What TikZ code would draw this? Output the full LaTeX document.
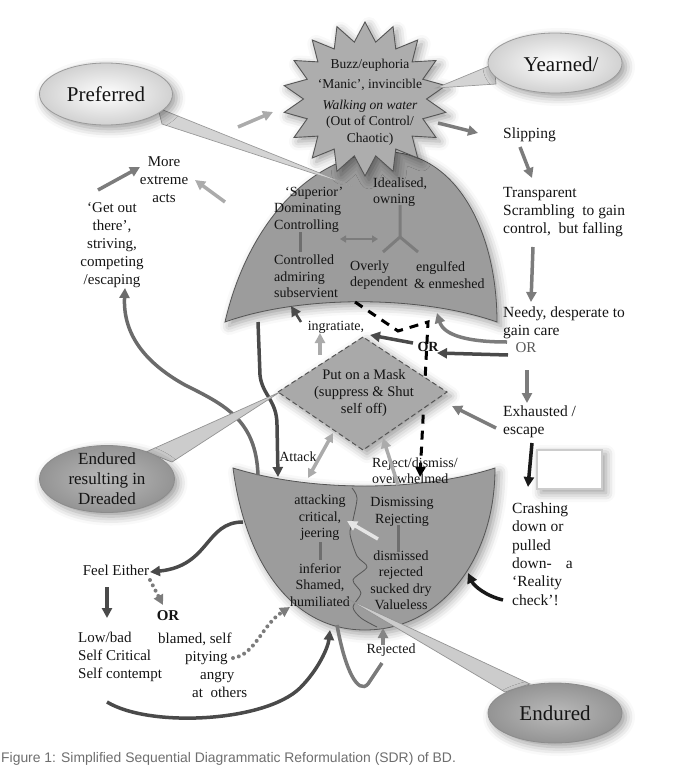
\documentclass[tikz,border=0pt]{standalone}
\usepackage{fontspec}
\setmainfont{Liberation Serif}
\newfontfamily\capfont{Liberation Sans}
\usetikzlibrary{arrows.meta,shapes.geometric,shadows.blur}
\definecolor{shapefill}{HTML}{9C9C9C}
\definecolor{diafill}{HTML}{A9A9A9}
\definecolor{starfill}{HTML}{ADADAD}
\definecolor{edgecol}{HTML}{555555}
\definecolor{txtcol}{HTML}{141414}
\definecolor{midarrow}{HTML}{7C7C7C}
\definecolor{lightarrow}{HTML}{ABABAB}
\definecolor{darkarrow}{HTML}{4A4A4A}
\definecolor{paletail}{HTML}{D4D4D4}
\definecolor{tailedge}{HTML}{9A9A9A}
\definecolor{capcol}{HTML}{6E6E6E}
\begin{document}
\begin{tikzpicture}[x=1pt,y=-1pt,
  every node/.style={inner sep=0pt, text=txtcol},
  rtext/.style={font=\fontsize{15.5}{18}\selectfont, align=left, anchor=west},
  ctext/.style={font=\fontsize{15}{18}\selectfont, align=center},
  intext/.style={font=\fontsize{14}{16.5}\selectfont, align=center},
  ltext/.style={font=\fontsize{14}{16.5}\selectfont, align=left, anchor=west},
  shadowed/.style={blur shadow={shadow xshift=4pt, shadow yshift=-4pt, shadow blur radius=9pt, shadow opacity=40}},
  tipA/.style={-{Triangle[length=10pt,width=10pt]}},
  midarr/.style={tipA, draw=midarrow, line width=3.5pt},
  lightarr/.style={tipA, draw=lightarrow, line width=3.5pt},
  darkarr/.style={tipA, draw=darkarrow, line width=3.5pt},
  blackarr/.style={tipA, draw=black!90, line width=3.5pt},
  bar/.style={draw=darkarrow!80, line width=3pt},
  lightcall/.style={ellipse, draw=tailedge, line width=0.8pt, inner color=white, outer color=black!18, shadowed},
  darkcall/.style={ellipse, draw=black!45, line width=0.8pt, inner color=black!27, outer color=black!42, shadowed},
  tailL/.style={fill=paletail, draw=tailedge, line width=0.7pt},
  tailD/.style={fill=black!20, draw=black!42, line width=0.7pt}
]
\useasboundingbox (0,0) rectangle (679,779);

% ---------- dome ----------
\filldraw[fill=shapefill, draw=edgecol, line width=0.8pt, shadowed]
  (225,322) .. controls (245,235) and (300,160) .. (380,152)
  .. controls (455,148) and (497,230) .. (497,322)
  .. controls (420,295) and (300,295) .. (225,322) -- cycle;

% ---------- bowl ----------
\filldraw[fill=shapefill, draw=edgecol, line width=0.8pt, shadowed]
  (233,468) .. controls (310,492) and (420,492) .. (495,468)
  .. controls (495,560) and (440,630) .. (365,630)
  .. controls (290,630) and (245,560) .. (233,468) -- cycle;

% wavy divider in bowl
\draw[edgecol, line width=0.8pt] plot[smooth] coordinates {(352,488) (357,498) (353,520) (350,534) (357,556) (367,567) (353,580) (361,593) (353,607) (361,618) (377,627)};

% ---------- dashed black path ----------
\draw[tipA, black, line width=3pt, dash pattern=on 9pt off 7pt]
  (355,302) -- (398,331) -- (428,322) -- (420,477);

% ---------- diamond ----------
\filldraw[fill=diafill, draw=edgecol, line width=1pt, dash pattern=on 5pt off 3pt, shadowed]
  (278,392) -- (363,337) -- (447,392) -- (363,450) -- cycle;
\node[intext, font=\fontsize{14.5}{17}\selectfont] (n_mask) at (364,393) {Put on a Mask\\(suppress \& Shut\\self off)};

% ---------- star ----------
\filldraw[fill=starfill, draw=edgecol, line width=0.9pt, shadowed]
  plot[samples at={0,...,35}, variable=\i]
  ({365+82*(mod(\i,2)==0 ? 1 : 0.75)*cos(90+10*\i)}, {99-77*(mod(\i,2)==0 ? 1 : 0.75)*sin(90+10*\i)}) -- cycle;
\node[align=center, font=\fontsize{13.5}{16.5}\selectfont] (n_buzz) at (370,102)
  {Buzz/euphoria\\[4pt]‘Manic’, invincible\\[4pt]\textit{Walking on water}\\(Out of Control/\\Chaotic)};

% ---------- dome inner marks ----------
\draw[bar] (300,232) -- (300,252);
\draw[{Triangle[length=6pt,width=7pt]}-{Triangle[length=6pt,width=7pt]}, draw=midarrow, line width=2.5pt] (340,239) -- (378,239);
\draw[draw=midarrow, line width=3pt] (400,205) -- (400,237) -- (383,252);
\draw[draw=midarrow, line width=3pt] (400,237) -- (418,252);

% dome texts
\node[ltext] (n_sup) at (274,209.5) {\hspace{11pt}‘Superior’\\Dominating\\Controlling};
\node[ltext] (n_ctrl) at (274,276.5) {Controlled\\admiring\\subservient};
\node[ltext] (n_ideal) at (373,192) {Idealised,\\owning};
\node[ltext] (n_overly) at (350,275) {Overly\\dependent};
\node[ltext] (n_engulf) at (414,275) {\hspace{2pt}engulfed\\\& enmeshed};

% ---------- bowl inner marks ----------
\draw[bar] (320,542) -- (320,560);
\draw[bar] (398,525) -- (398,552);
\draw[tipA, draw=black!10, line width=3.5pt] (378,539) -- (347,521);

% bowl texts
\node[intext] (n_attacking) at (320,518) {attacking\\critical,\\jeering};
\node[intext] (n_inferior) at (320,585) {inferior\\Shamed,\\humiliated};
\node[intext] (n_dismissing) at (402,512) {Dismissing\\Rejecting};
\node[intext] (n_dismissed) at (401,580) {dismissed\\rejected\\sucked dry\\Valueless};

% ---------- labels around diamond ----------
\node[intext] (n_ingr) at (336,327) {ingratiate,};
\node[intext] (n_attack) at (298,457) {Attack};
\node[ltext, font=\fontsize{14}{15.5}\selectfont] (n_reject) at (372,470.5) {Reject/dismiss/\\overwhelmed};
\node[font=\bfseries\fontsize{14}{16}\selectfont] (n_midor) at (428,347) {OR};
\node[intext] (n_rejected) at (391,650) {Rejected};

% ---------- right column ----------
\node[rtext] (n_slip) at (503,135) {Slipping};
\node[rtext] (n_transp) at (503,212) {Transparent\\Scrambling\ \ to gain\\control,\ \ but falling};
\node[rtext] (n_needy) at (503,323) {Needy, desperate to\\gain care};
\node[font=\fontsize{15}{18}\selectfont, text=black!65] (n_needyor) at (526,348) {OR};
\node[rtext] (n_exh) at (503,422) {Exhausted /\\escape};
\node[rtext, font=\fontsize{15.5}{18.4}\selectfont] (n_crash) at (512,554) {Crashing\\down or\\pulled\\down-\hspace{14pt}a\\‘Reality\\check’!};
\filldraw[draw=black!20, fill=white, line width=2pt, shadowed] (537,450) rectangle (602,489);

% ---------- left side ----------
\node[ctext] (n_more) at (164,180) {More\\extreme\\acts};
\node[ctext] (n_getout) at (112,245.5) {‘Get out\\there’,\\striving,\\competing\\/escaping};
\node[ctext] (n_feel) at (116,570) {Feel Either};
\node[font=\bfseries\fontsize{15}{18}\selectfont] (n_or) at (168,616) {OR};
\node[rtext, font=\fontsize{15}{18}\selectfont] (n_low) at (78,656.5) {Low/bad\\Self Critical\\Self contempt};
\node[rtext, font=\fontsize{15}{18}\selectfont] (n_blamed) at (158,665.5) {blamed, self\\\hspace{27pt}pitying\\\hspace{42pt}angry\\\hspace{34pt}at\ \ others};

% ---------- arrows ----------
\draw[midarr] (438,123) -- (478,133);
\draw[midarr] (520,147) -- (532,178);
\draw[midarr] (533,247) -- (531,302);
\draw[midarr] (527,370) -- (527,403);
\draw[midarr] (496,428) -- (452,406);
\draw[blackarr] (532,443) -- (528,487);
\draw[blackarr] (503,600) .. controls (486,596) and (474,586) .. (468,573);
\draw[darkarr] (508,355) -- (437,353);
\draw[darkarr] (413,343) -- (370,335);
\draw[midarr] (507,342) .. controls (470,342) and (444,336) .. (437,313);
\draw[darkarr, line width=2.5pt] (301,322) -- (291,306);
\draw[lightarr] (320,355) -- (320,333);
\draw[darkarr] (258,322) -- (260,375) .. controls (262,395) and (277,400) .. (277,425) -- (278,477);
\draw[{Triangle[length=9pt,width=9pt]}-{Triangle[length=9pt,width=9pt]}, draw=lightarrow, line width=3.5pt] (308,478) -- (333,433);
\draw[lightarr] (398,485) -- (383,438);
\draw[tipA, draw=black!58, line width=3.5pt] (258,475) .. controls (256,420) and (225,405) .. (185,385) .. controls (140,360) and (123,330) .. (125,288);
\draw[darkarr] (243,522) .. controls (205,522) and (210,566) .. (150,572);
\draw[darkarr] (107,587) -- (107,618);
\draw[tipA, draw=midarrow, line width=4pt, line cap=round, dash pattern=on 0pt off 6pt] (150,580) -- (163,605);
\draw[tipA, draw=midarrow, line width=4pt, line cap=round, dash pattern=on 0pt off 6pt] (233,658) .. controls (255,655) and (262,625) .. (290,607);
\draw[darkarr] (107,702) .. controls (150,728) and (265,722) .. (300,688) .. controls (318,670) and (328,648) .. (330,630);
\draw[midarr] (98,190) -- (140,167);
\draw[lightarr] (225,202) -- (195,180);
\draw[lightarr] (238,127) -- (273,112);
\draw[tipA, draw=black!48, line width=3.5pt] (383,645) -- (383,628);
\draw[draw=black!52, line width=3.5pt] (337,625) .. controls (345,670) and (358,695) .. (368,684) -- (382,663);

% ---------- callouts ----------
\filldraw[tailL] (158,108) -- (352,186) -- (162,124) -- cycle;
\node[lightcall, minimum width=133pt, minimum height=62pt] (c_pref) at (106,94) {};
\node[font=\fontsize{21}{24}\selectfont] at (c_pref) {Preferred};

\filldraw[tailL] (494,64) -- (436,88) -- (496,84) -- cycle;
\node[lightcall, minimum width=134pt, minimum height=60pt] (c_year) at (555,63) {};
\node[font=\fontsize{21}{24}\selectfont] at (561,64) {Yearned/};

\filldraw[tailD] (146,452) -- (280,392) -- (172,462) -- cycle;
\node[darkcall, minimum width=135pt, minimum height=67pt] (c_endres) at (107,479) {};
\node[align=center, font=\fontsize{17}{20}\selectfont] at (c_endres) {Endured\\resulting in\\Dreaded};

\filldraw[tailD] (346,598) -- (530,684) -- (505,692) -- cycle;
\node[darkcall, minimum width=134pt, minimum height=60pt] (c_end) at (555,713) {};
\node[font=\fontsize{21}{24}\selectfont] at (c_end) {Endured};

% ---------- caption ----------
\node[anchor=base west, font=\capfont\fontsize{13.9}{16}\selectfont, text=capcol] (n_cap) at (1,762)
  {Figure 1: Simplified Sequential Diagrammatic Reformulation (SDR) of BD.};
\end{tikzpicture}
\end{document}
